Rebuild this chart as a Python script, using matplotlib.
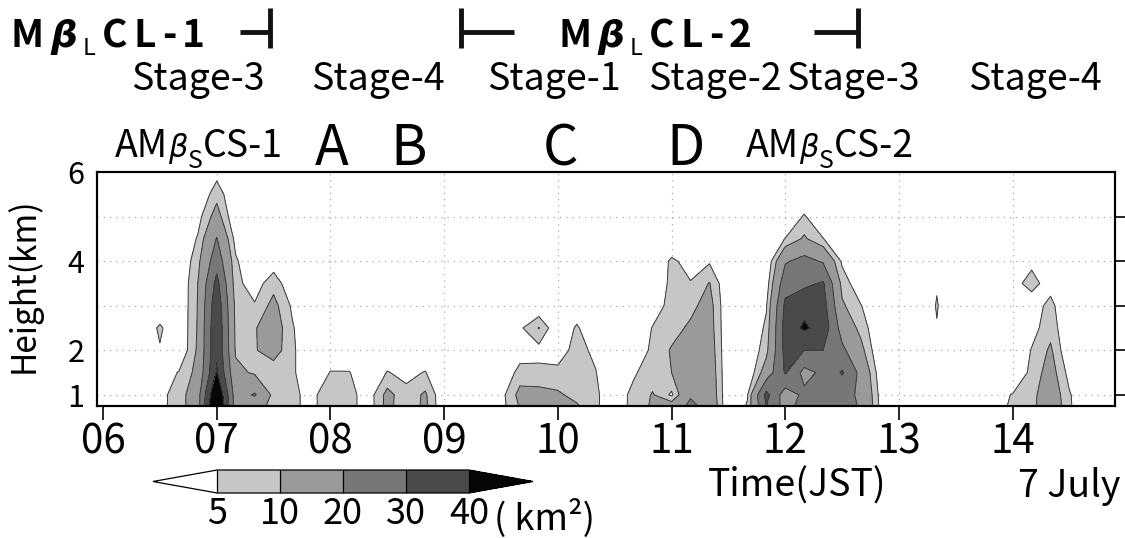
import numpy as np
import matplotlib
matplotlib.use('Agg')
import matplotlib.pyplot as plt
from matplotlib.cm import ScalarMappable
from matplotlib.colors import ListedColormap, BoundaryNorm
from matplotlib.lines import Line2D

plt.rcParams['font.family'] = ['Noto Sans CJK JP', 'DejaVu Sans']

# echo area (km^2) per height bin, one row per 10-min scan from 06:00
heights = [0.75, 1.0, 1.5, 2.0, 2.5, 3.0, 3.5, 4.0, 4.5, 5.0, 5.5, 6.0]
times = np.arange(6, 14.9, 1 / 6.)

area = [
  [0, 0, 0, 0, 0, 0, 0, 0, 0, 0, 0, 0],                # 06:00
  [0, 0, 0, 0, 0, 0, 0, 0, 0, 0, 0, 0],                # 06:10
  [0, 0, 0, 0, 0, 0, 0, 0, 0, 0, 0, 0],                # 06:20
  [4, 4, 2, 4.5, 6, 0, 0, 0, 0, 0, 0, 0],              # 06:30
  [6.5, 6.5, 5.3, 0, 0, 0, 0, 0, 0, 0, 0, 0],          # 06:40
  [16, 16, 12, 11, 10.5, 10.3, 10, 8, 5.5, 3, 0, 0],   # 06:50
  [55, 52, 41, 38.5, 38.5, 37, 33, 26, 20.5, 13, 8, 3],  # 07:00
  [15, 15, 12, 9, 8.5, 8, 6.5, 5.8, 3, 0, 0, 0],       # 07:10
  [13, 21, 9, 9.5, 9.5, 5.5, 2.5, 0, 0, 0, 0, 0],      # 07:20
  [8, 8, 6.5, 13, 14, 12, 8, 2, 0, 0, 0, 0],           # 07:30
  [6, 6, 6, 6, 5.5, 4, 1, 0, 0, 0, 0, 0],              # 07:40
  [3.5, 3.5, 0, 0, 0, 0, 0, 0, 0, 0, 0, 0],            # 07:50
  [8.5, 8.5, 5.3, 1, 0, 0, 0, 0, 0, 0, 0, 0],          # 08:00
  [7, 7, 5.3, 0, 0, 0, 0, 0, 0, 0, 0, 0],              # 08:10
  [2, 2, 0, 0, 0, 0, 0, 0, 0, 0, 0, 0],                # 08:20
  [12, 12, 5.3, 1, 0, 0, 0, 0, 0, 0, 0, 0],            # 08:30
  [6, 6.5, 3.5, 0, 0, 0, 0, 0, 0, 0, 0, 0],            # 08:40
  [11.5, 11, 5.3, 1, 0, 0, 0, 0, 0, 0, 0, 0],          # 08:50
  [0, 0, 0, 0, 0, 0, 0, 0, 0, 0, 0, 0],                # 09:00
  [0, 0, 0, 0, 0, 0, 0, 0, 0, 0, 0, 0],                # 09:10
  [0, 0, 0, 0, 0, 0, 0, 0, 0, 0, 0, 0],                # 09:20
  [3, 3, 0, 0, 0, 0, 0, 0, 0, 0, 0, 0],                # 09:30
  [10.5, 12, 7, 2, 4, 0, 0, 0, 0, 0, 0, 0],            # 09:40
  [11, 12, 6.5, 3, 10.3, 0, 0, 0, 0, 0, 0, 0],         # 09:50
  [12, 11, 6, 3, 0, 0, 0, 0, 0, 0, 0, 0],              # 10:00
  [10.8, 8, 7, 6.5, 5.8, 1, 0, 0, 0, 0, 0, 0],         # 10:10
  [5.5, 5.5, 5.2, 4, 0, 0, 0, 0, 0, 0, 0, 0],          # 10:20
  [3, 3, 0, 0, 0, 0, 0, 0, 0, 0, 0, 0],                # 10:30
  [6, 6, 4.5, 0, 0, 0, 0, 0, 0, 0, 0, 0],              # 10:40
  [11, 10.5, 7, 6.5, 5.3, 2, 0, 0, 0, 0, 0, 0],        # 10:50
  [14, 4, 10, 10.5, 8, 7, 6.5, 6, 0, 0, 0, 0],         # 11:00
  [22, 19, 14, 13, 11, 8.5, 5.3, 3, 0, 0, 0, 0],       # 11:10
  [17, 16, 15, 14, 13, 12.5, 10.3, 4.3, 0, 0, 0, 0],   # 11:20
  [0, 0, 0, 0, 0, 0, 0, 0, 0, 0, 0, 0],                # 11:30
  [5.5, 4.5, 0, 0, 0, 0, 0, 0, 0, 0, 0, 0],            # 11:40
  [30, 33, 14, 8, 6, 4.5, 2, 0, 0, 0, 0, 0],           # 11:50
  [16, 15, 31, 33, 34, 32, 26, 19, 5.2, 0, 0, 0],      # 12:00
  [24, 22, 17, 30, 41.5, 37, 28, 23, 11, 5.6, 0, 0],   # 12:10
  [25, 24, 22, 30, 36, 34, 31, 19, 5.2, 0, 0, 0],      # 12:20
  [22, 22, 31, 22, 16, 11, 8, 4, 0, 0, 0, 0],          # 12:30
  [19.5, 19, 17, 12, 8, 5.2, 1, 0, 0, 0, 0, 0],        # 12:40
  [4, 3.5, 2, 0, 0, 0, 0, 0, 0, 0, 0, 0],              # 12:50
  [0, 0, 0, 0, 0, 0, 0, 0, 0, 0, 0, 0],                # 13:00
  [0, 0, 0, 0, 0, 0, 0, 0, 0, 0, 0, 0],                # 13:10
  [0, 0, 0, 0, 4.7, 5.4, 4.5, 0, 0, 0, 0, 0],          # 13:20
  [0, 0, 0, 0, 0, 0, 0, 0, 0, 0, 0, 0],                # 13:30
  [0, 0, 0, 0, 0, 0, 0, 0, 0, 0, 0, 0],                # 13:40
  [3, 3, 0, 0, 0, 0, 0, 0, 0, 0, 0, 0],                # 13:50
  [5.8, 5.3, 0, 0, 0, 0, 3.5, 0, 0, 0, 0, 0],          # 14:00
  [8, 8, 6.5, 5.3, 3, 2.5, 6.5, 4, 0, 0, 0, 0],        # 14:10
  [16, 15, 13, 11, 8, 6.5, 3, 0, 0, 0, 0, 0],          # 14:20
  [5.7, 5.5, 3, 0, 0, 0, 0, 0, 0, 0, 0, 0],            # 14:30
  [0, 0, 0, 0, 0, 0, 0, 0, 0, 0, 0, 0],                # 14:40
  [0, 0, 0, 0, 0, 0, 0, 0, 0, 0, 0, 0],                # 14:50
]

levels = [5, 10, 20, 30, 40]
shades = ['#c6c6c6', '#9a9a9a', '#777777', '#4a4a4a']
over_shade = '#060606'

hours = list(range(6, 15))
hour_labels = ['%02d' % h for h in hours]
height_ticks = [1, 2, 4, 6]
grid_heights = [1, 2, 3, 4, 5]

stages = ['Stage-3', 'Stage-4', 'Stage-1', 'Stage-2', 'Stage-3', 'Stage-4']
cells = ['A', 'B', 'C', 'D']

W, H = 1125, 538
fig = plt.figure(figsize=(W / 100, H / 100), dpi=100)


def fxy(px, py):
  return px / W, 1 - py / H


def text_run(px, py, parts, gap=0, **kw):
  # lay out pieces of text one after another on a common baseline
  r = fig.canvas.get_renderer()
  for s, dy, extra in parts:
    opts = dict(kw)
    opts.update(extra)
    t = fig.text(*fxy(px, py + dy), s, va='baseline', **opts)
    px += t.get_window_extent(r).width + gap


def bar(x0, y0, x1, y1):
  fig.add_artist(Line2D([x0 / W, x1 / W], [1 - y0 / H, 1 - y1 / H],
                        transform=fig.transFigure, lw=3.5, color='#111111',
                        solid_capstyle='butt'))


ax = fig.add_axes([97 / W, 1 - 406 / H, 1018 / W, 234 / H])
z = np.array(area).T
ax.contourf(times, heights, z, levels=levels + [1000],
            colors=shades + [over_shade], zorder=1)
ax.contour(times, heights, z, levels=levels, colors='#3a3a3a',
           linewidths=0.7, zorder=2)

for h in grid_heights:
  ax.axhline(h, color='#a8a8a8', lw=0.9, ls=(0, (1, 4)), zorder=0.5)
for t in hours[1:]:
  ax.axvline(t, color='#a8a8a8', lw=0.9, ls=(0, (1, 4)), zorder=0.5)

ax.set_xlim(5.947, 14.9)
ax.set_ylim(0.75, 6.0)
ax.set_xticks(hours)
ax.set_xticklabels(hour_labels, fontsize=29)
ax.tick_params(axis='x', direction='out', length=10, width=1.2, pad=1)
ax.set_yticks(height_ticks)
ax.set_yticklabels([str(h) for h in height_ticks], fontsize=22)
ax.tick_params(axis='y', length=0, pad=9)

rax = ax.twinx()
rax.set_ylim(ax.get_ylim())
rax.set_yticks(grid_heights)
rax.set_yticklabels([])
rax.tick_params(direction='out', length=8, width=1.2)
for a in (ax, rax):
  for sp in a.spines.values():
    sp.set_linewidth(1.5)

# colour scale with open-ended triangles
cax = fig.add_axes([153 / W, 1 - 493 / H, 380 / W, 23 / H])
cmap = ListedColormap(shades)
cmap.set_under('white')
cmap.set_over(over_shade)
norm = BoundaryNorm(levels, cmap.N)
cb = fig.colorbar(ScalarMappable(norm=norm, cmap=cmap), cax=cax,
                  orientation='horizontal', extend='both',
                  extendfrac=64 / 251., ticks=levels, drawedges=True)
cb.ax.tick_params(length=0, labelsize=26, pad=2)
cb.set_ticklabels([str(v) for v in levels])
cb.outline.set_linewidth(0.9)
cb.dividers.set_linewidth(0.9)
fig.text(*fxy(494, 530), '( km\u00b2)', fontsize=26, va='baseline')

fig.text(*fxy(24, 285), 'Height(km)', rotation=90, ha='center', va='center',
         fontsize=24)
fig.text(*fxy(797, 497), 'Time(JST)', ha='center', va='baseline', fontsize=27)
fig.text(*fxy(1120, 497), '7 July', ha='right', va='baseline', fontsize=27)

# period markers along the top
beta_bold = {'family': 'DejaVu Sans', 'style': 'oblique', 'fontsize': 27}
for x0, n in ((11, '1'), (558, '2')):
  text_run(x0, 47, [('M', 0, {}), ('\u03b2', 0, beta_bold),
                    ('L', 8, {'fontsize': 17, 'weight': 'normal'}),
                    ('C', 0, {}), ('L', 0, {}), ('-', 0, {}), (n, 0, {})],
           gap=6, fontsize=28, weight='bold')
bar(240, 32, 270, 32)
bar(270, 8, 270, 48)
bar(461, 8, 461, 48)
bar(461, 32, 514, 32)
bar(814, 32, 858, 32)
bar(858, 8, 858, 48)

for s, x in zip(stages, [198, 378, 554, 715, 853, 1035]):
  fig.text(*fxy(x, 90), s, ha='center', va='baseline', fontsize=27)

beta_thin = {'family': 'DejaVu Sans', 'style': 'oblique', 'fontsize': 22}
for x0, n in ((115, '1'), (746, '2')):
  text_run(x0, 157, [('AM', 0, {}), ('\u03b2', 0, beta_thin),
                     ('S', 11, {'fontsize': 18}), ('CS-' + n, 0, {})],
           gap=0, fontsize=27)

for s, x in zip(cells, [332, 409, 560, 686]):
  fig.text(*fxy(x, 165), s, ha='center', va='baseline', fontsize=40)

fig.savefig('out.png', dpi=100)
